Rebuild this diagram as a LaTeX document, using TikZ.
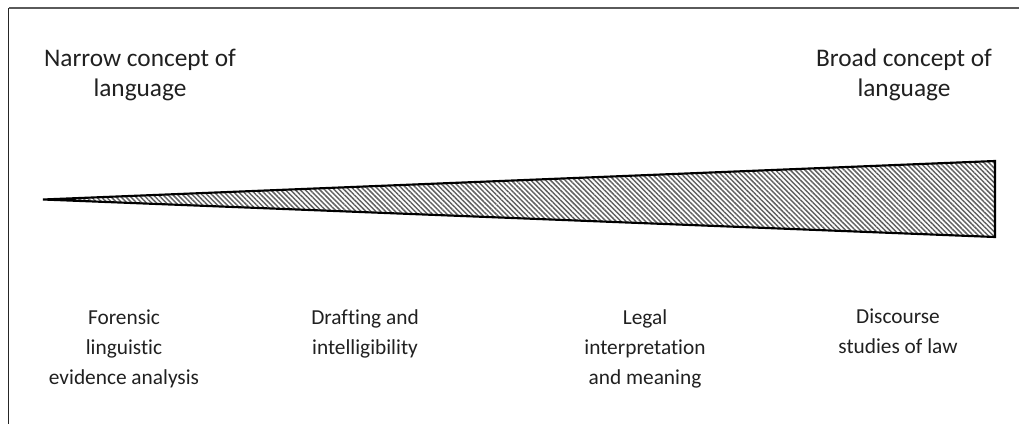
\documentclass[tikz,border=0pt]{standalone}
\usepackage{fontspec}
\setmainfont[Ligatures={NoCommon}]{Carlito}
\usetikzlibrary{patterns.meta}
\definecolor{ink}{HTML}{202020}
\definecolor{framegrey}{HTML}{5A5A5A}
\tikzset{
  heading/.style={align=center, text=ink, font=\fontsize{19pt}{22pt}\selectfont, inner sep=0pt},
  topic/.style={align=center, text=ink, font=\fontsize{16pt}{22.5pt}\selectfont, inner sep=0pt},
  wedge/.style={draw=black, line width=1.6pt, line join=miter,
    pattern={Lines[angle=-45, distance=2.6pt, line width=1.1pt]}, pattern color=black!62},
}
\begin{document}
\begin{tikzpicture}[x=0.75pt, y=-0.75pt]
  \useasboundingbox (0,0) rectangle (1019,424);
  % open frame: top rule and left rule
  \coordinate (fc) at (8.5,8.5);
  \coordinate (fr) at (1019,8.5);
  \coordinate (fb) at (8.5,424);
  \draw[framegrey, line width=1.5pt] (fc) -- (fr);
  \draw[black!85, line width=1.2pt] (fc) -- (fb);

  % the widening wedge
  \coordinate (tip) at (43,199.5);
  \coordinate (ut) at (995,161);
  \coordinate (ub) at (995,237);
  \draw[wedge] (tip) -- (ut) -- (ub) -- cycle;

  % end labels
  \node[heading] (narrow) at (140,75) {Narrow concept of\\language};
  \node[heading] (broad) at (904,75) {Broad concept of\\language};

  % fields along the continuum
  \node[topic] (forensic) at (124,349) {Forensic\\linguistic\\evidence analysis};
  \node[topic] (drafting) at (365,334) {Drafting and\\intelligibility};
  \node[topic] (legal) at (645,349) {Legal\\interpretation\\and meaning};
  \node[topic] (discourse) at (898,331.5) {Discourse\\studies of law};
\end{tikzpicture}
\end{document}
